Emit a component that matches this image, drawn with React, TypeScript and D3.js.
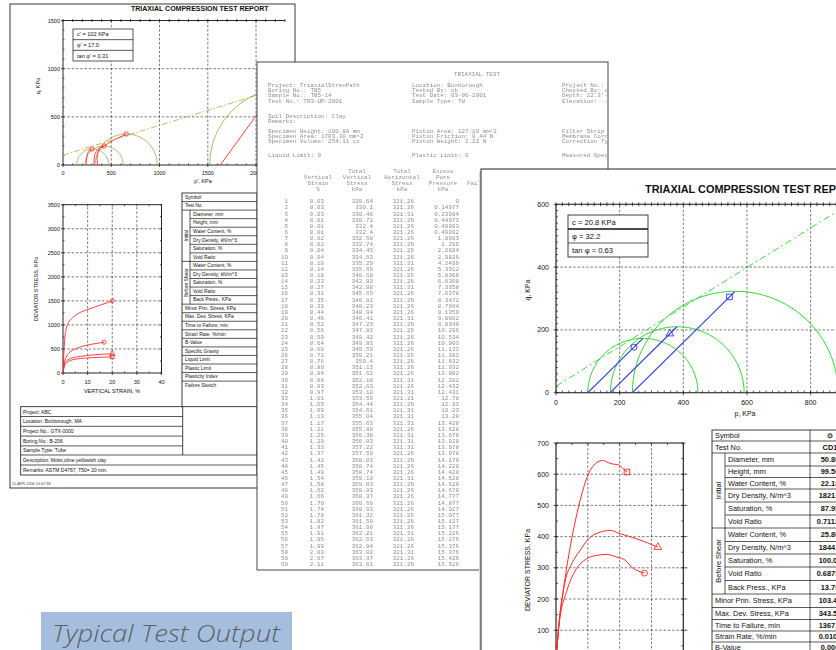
import React from 'react';
import * as d3 from 'd3';

type P = [number, number];

const F = "'Liberation Sans', Arial, Helvetica, sans-serif";
const MONO = "'Liberation Mono', 'DejaVu Sans Mono', monospace";

// ================= LEFT PAGE =================
const lTitle = 'TRIAXIAL COMPRESSION TEST REPORT';
// p'-q chart
const lqXTicks = [0, 500, 1000, 1500, 2000];
const lqYTicks = [0, 500, 1000, 1500];
const lqCohesion = 102;
const lqTanPhi = 0.31;
const lqLegend = ["c' = 102 KPa", "\u03c6' = 17.0", "tan \u03c6' = 0.31"];
const lqCircleCenters = [308, 425, 655, 2320];
const lqCircleRadii = [166, 197, 322, 800];
const lqPathA: P[] = [[240, 0], [243, 50], [250, 100], [262, 135], [280, 155], [300, 166]];
const lqPathB: P[] = [[325, 0], [322, 50], [328, 100], [345, 140], [375, 175], [425, 197]];
const lqPathC: P[] = [[360, 0], [352, 60], [360, 120], [385, 165], [430, 200], [520, 255], [600, 295], [655, 322]];
const lqPathD: P[] = [[1630, 0], [2300, 925]];
const lqMarkers: P[] = [[300, 166], [425, 197], [655, 322]];
// stress-strain chart
const lsXTicks = [0, 10, 20, 30, 40];
const lsYTicks = [0, 500, 1000, 1500, 2000, 2500, 3000, 3500];
const lsCurve1: P[] = [[0, 0], [0.3, 350], [0.7, 700], [1.2, 900], [2, 1030], [3.5, 1130], [6, 1230], [10, 1320], [15, 1410], [20, 1500]];
const lsCurve2: P[] = [[0, 0], [0.4, 180], [1.2, 320], [2.5, 420], [5, 500], [9, 570], [13, 610], [16.7, 640]];
const lsCurve3: P[] = [[0, 0], [0.4, 150], [1.2, 240], [3, 300], [7, 345], [12, 375], [20, 400]];
const lsCurve4: P[] = [[0, 0], [0.4, 110], [1.2, 200], [3, 260], [7, 300], [12, 320], [20, 335]];
// tables
const lTableRows = ['Symbol', 'Test No.', 'Diameter, mm', 'Height, mm', 'Water Content, %', 'Dry Density, kN/m^3', 'Saturation, %', 'Void Ratio', 'Water Content, %', 'Dry Density, kN/m^3', 'Saturation, %', 'Void Ratio', 'Back Press., KPa', 'Minor Prin. Stress, KPa', 'Max. Dev. Stress, KPa', 'Time to Failure, min', 'Strain Rate, %/min', 'B-Value', 'Specific Gravity', 'Liquid Limit', 'Plastic Limit', 'Plasticity Index', 'Failure Sketch'];
const lInfoShort = ['Project: ABC', 'Location: Boxborough, MA', 'Project No.: GTX-0000', 'Boring No.: B-206', 'Sample Type: Tube'];
const lInfoLong = ['Description: Moist,olive yellowish clay', 'Remarks: ASTM D4767,  T50= 20 min.'];
const lFooter = '11-APR-2006 10:47:38';

// ================= MIDDLE PAGE =================
const mTitle = 'TRIAXIAL TEST';
const mHeadCol1 = ['Project: TriaxialStrenPath', 'Boring No.: TB5', 'Sample No.: TB5-14', 'Test No.: TR3-UP-2001'];
const mHeadCol2 = ['Location: Boxborough', 'Tested By: cb', 'Test Date: 03-06-2001', 'Sample Type: TW'];
const mHeadCol3 = ['Project No.: GTX-0000', 'Checked By: dd', "Depth: 22.3'-24.3'", 'Elevation: ---'];
const mSoil = ['Soil Description: Clay', 'Remarks:'];
const mSpecCol1 = ['Specimen Height: 100.80 mm', 'Specimen Area: 1703.30 mm^2', 'Specimen Volume: 254.11 cc'];
const mSpecCol2 = ['Piston Area: 127.10 mm^2', 'Piston Friction: 0.44 N', 'Piston Weight: 2.22 N'];
const mSpecCol3 = ['Filter Strip Correction: 0 kPa', 'Membrane Correction: 0.14 N/mm', 'Correction Type: Uniform'];
const mLimits = ['Liquid Limit: 0', 'Plastic Limit: 0', 'Measured Specific Gravity: 2.7'];
const mColHeads = [['', 'Total', 'Total', 'Excess'], ['Vertical', 'Vertical', 'Horizontal', 'Pore'], ['Strain', 'Stress', 'Stress', 'Pressure'], ['%', 'kPa', 'kPa', 'kPa']];
const mStrain = ['0.03', '0.03', '0.03', '0.01', '0.01', '0.01', '0.02', '0.02', '0.04', '0.04', '0.10', '0.14', '0.19', '0.23', '0.27', '0.31', '0.35', '0.39', '0.44', '0.48', '0.52', '0.56', '0.59', '0.64', '0.69', '0.72', '0.76', '0.80', '0.84', '0.88', '0.93', '0.97', '1.01', '1.05', '1.09', '1.13', '1.17', '1.21', '1.25', '1.29', '1.33', '1.37', '1.42', '1.45', '1.49', '1.54', '1.58', '1.62', '1.66', '1.70', '1.74', '1.78', '1.82', '1.87', '1.91', '1.95', '1.99', '2.03', '2.07', '2.11'];
const mVert = ['329.64', '330.1', '330.46', '330.72', '332.4', '332.4', '332.58', '332.74', '334.43', '334.63', '335.29', '335.69', '340.69', '342.83', '342.88', '345.65', '346.81', '348.23', '348.94', '346.41', '347.23', '347.83', '349.42', '349.83', '349.59', '350.21', '350.4', '351.13', '351.62', '352.18', '352.63', '353.18', '353.59', '354.44', '354.61', '355.04', '355.63', '355.88', '356.38', '356.83', '357.22', '357.59', '358.03', '358.74', '358.74', '359.19', '359.63', '359.83', '360.37', '360.66', '360.93', '361.32', '361.59', '361.98', '362.21', '362.53', '362.84', '363.02', '363.37', '363.61'];
const mHoriz = ['321.26', '321.26', '321.31', '321.26', '321.26', '321.26', '321.26', '321.26', '321.26', '321.26', '321.31', '321.26', '321.26', '321.26', '321.31', '321.26', '321.26', '321.26', '321.26', '321.31', '321.26', '321.26', '321.26', '321.26', '321.26', '321.26', '321.26', '321.26', '321.26', '321.31', '321.26', '321.31', '321.21', '321.26', '321.31', '321.31', '321.31', '321.26', '321.31', '321.31', '321.31', '321.26', '321.26', '321.26', '321.26', '321.31', '321.26', '321.26', '321.26', '321.26', '321.26', '321.26', '321.26', '321.26', '321.31', '321.26', '321.26', '321.31', '321.26', '321.26'];
const mPore = ['0', '0.14977', '0.23994', '0.44973', '0.49993', '0.49992', '1.0993', '1.299', '2.2824', '2.9826', '4.2436', '5.3312', '5.8308', '6.6308', '7.3358', '7.6378', '8.3472', '8.7664', '9.1359', '9.8002', '9.9348', '10.296', '10.534', '10.903', '11.133', '11.383', '11.632', '11.932', '12.082', '12.282', '12.432', '12.431', '12.78', '12.93', '13.23', '13.28', '13.428', '13.628', '13.678', '13.928', '13.978', '13.978', '14.178', '14.228', '14.428', '14.528', '14.628', '14.678', '14.777', '14.877', '14.927', '15.077', '15.127', '15.177', '15.226', '15.276', '15.376', '15.376', '15.426', '15.526'];

// ================= RIGHT PAGE =================
const rTitle = 'TRIAXIAL COMPRESSION TEST REPORT';
const rqXTicks = [0, 200, 400, 600, 800];
const rqYTicks = [0, 200, 400, 600];
const rqCohesion = 20.8;
const rqTanPhi = 0.63;
const rqLegend = ['c = 20.8 KPa', '\u03c6 = 32.2', 'tan \u03c6 = 0.63'];
const rqCircleCenters = [273, 381, 563];
const rqCircleRadii = [173, 210, 323];
const rqPath1: P[] = [[100, 0], [273, 173]];
const rqPath2: P[] = [[170, 0], [380, 210]];
const rqPath3: P[] = [[240, 0], [562, 322]];
const rqMarkCircle: P = [245, 145];
const rqMarkTriangle: P = [358, 188];
const rqMarkSquare: P = [545, 305];
const rsYTicks = [100, 200, 300, 400, 500, 600, 700];
const rsXGrid = [5, 10, 15];
const rsCurveSquare: P[] = [[0, 0], [0.5, 130], [1.05, 215], [1.78, 313], [2.73, 420], [3.79, 516], [5.1, 601], [6.15, 633], [7.36, 644], [8.0, 639], [8.8, 633], [9.8, 630], [10.6, 617], [11.15, 607]];
const rsCurveTriangle: P[] = [[0, 0], [0.5, 125], [1.42, 255], [2.47, 313], [3.79, 356], [5.36, 398], [6.94, 414], [8.5, 420], [10.1, 409], [12.7, 393], [16.0, 366]];
const rsCurveCircle: P[] = [[0, 0], [0.5, 120], [1.68, 225], [3.0, 290], [4.84, 329], [6.4, 340], [8.0, 343], [9.6, 334], [10.9, 324], [11.9, 302], [13.0, 289], [13.9, 283]];
const rTableRows = ['Symbol', 'Test No.', 'Diameter, mm', 'Height, mm', 'Water Content, %', 'Dry Density, N/m^3', 'Saturation, %', 'Void Ratio', 'Water Content, %', 'Dry Density, N/m^3', 'Saturation, %', 'Void Ratio', 'Back Press., KPa', 'Minor Prin. Stress, KPa', 'Max. Dev. Stress, KPa', 'Time to Failure, min', 'Strain Rate, %/min', 'B-Value'];
const rTableValues = ['\u2299', 'CD1', '50.80', '99.50', '22.18', '1821.4', '87.95', '0.71123', '25.80', '1844.2', '100.06', '0.68751', '13.79', '103.42', '343.51', '1367.2', '0.0101', '0.000'];
const caption = 'Typical Test Output';

// ---------- helpers ----------
const semicircle = (c: number, r: number): P[] =>
  d3.range(0, 181, 1.5).map((a) => [c + r * Math.cos((a * Math.PI) / 180), r * Math.sin((a * Math.PI) / 180)] as P);

const sty = { stroke: '#111', strokeWidth: 0.7 };
const dash = { stroke: '#222', strokeWidth: 0.6, strokeDasharray: '2.5,1.8' };

function Table(props: {
  x0: number; gx: number; vx: number; xr: number; bounds: number[]; rows: string[]; fs: number; values?: string[]; vcx?: number;
}) {
  const { x0, gx, vx, xr, bounds, rows, fs, values, vcx } = props;
  const groupOf = (i: number) => (i >= 2 && i <= 7 ? 1 : i >= 8 && i <= 12 ? 2 : 0);
  const groups = [{ name: 'Initial', a: 2, b: 7 }, { name: 'Before Shear', a: 8, b: 12 }];
  const n = rows.length;
  return (
    <g fontFamily={F} fontSize={fs} fill="#111">
      <rect x={x0} y={bounds[0]} width={xr - x0} height={bounds[n] - bounds[0]} fill="#fff" stroke="#111" strokeWidth={0.8} />
      <line x1={vx} x2={vx} y1={bounds[0]} y2={bounds[n]} {...sty} />
      <line x1={gx} x2={gx} y1={bounds[2]} y2={bounds[13]} {...sty} />
      {rows.map((r, i) => {
        const g = groupOf(i);
        const yT = bounds[i];
        const yB = bounds[i + 1];
        const lx = g ? gx + 3 : x0 + 3;
        const nextSame = i < n - 1 && g !== 0 && groupOf(i + 1) === g;
        const isSketch = r === 'Failure Sketch';
        return (
          <g key={i}>
            {i < n - 1 && <line x1={nextSame ? gx : x0} x2={xr} y1={yB} y2={yB} {...sty} />}
            <text x={lx} y={isSketch ? yT + fs + 1 : (yT + yB) / 2} dominantBaseline={isSketch ? 'auto' : 'central'}>{r}</text>
            {values && vcx !== undefined && values[i] && (
              <text x={vcx} y={(yT + yB) / 2} dominantBaseline="central" textAnchor="middle" fontWeight="bold">{values[i]}</text>
            )}
          </g>
        );
      })}
      {groups.map((g) => (
        <text key={g.name} transform={`translate(${(x0 + gx) / 2},${(bounds[g.a] + bounds[g.b + 1]) / 2}) rotate(-90)`} textAnchor="middle" dominantBaseline="central">{g.name}</text>
      ))}
    </g>
  );
}

function LeftPage() {
  const x = d3.scaleLinear().domain([0, 2300]).range([63, 285]);
  const y = d3.scaleLinear().domain([0, 1500]).range([165, 20.5]);
  const ln = d3.line<P>().x((d) => x(d[0])).y((d) => y(d[1]));
  const sm = d3.line<P>().x((d) => x(d[0])).y((d) => y(d[1])).curve(d3.curveCatmullRom.alpha(0.5));
  const env: P[] = [[0, lqCohesion], [2300, lqCohesion + lqTanPhi * 2300]];
  const sx = d3.scaleLinear().domain([0, 40]).range([63, 161.5]);
  const sy = d3.scaleLinear().domain([0, 3500]).range([373, 204.7]);
  const sl = d3.line<P>().x((d) => sx(d[0])).y((d) => sy(d[1])).curve(d3.curveMonotoneX);
  const lBounds = [...d3.range(0, 23).map((i) => 193 + i * 8.55), 455];
  const infoB = [406.7, 416.5, 426.3, 436.1, 445.9, 455, 465, 475];
  return (
    <g>
      <rect x={10} y={4} width={285} height={484} fill="#fff" stroke="#222" strokeWidth={0.9} />
      <text x={131} y={11.3} fontFamily={F} fontSize={7} fontWeight="bold" fill="#111">{lTitle}</text>
      <defs>
        <clipPath id="lqclip"><rect x={63} y={20.5} width={222} height={144.5} /></clipPath>
        <clipPath id="lsclip"><rect x={63} y={204.7} width={98.5} height={168.3} /></clipPath>
      </defs>
      {[500, 1000].map((v) => <line key={'h' + v} x1={x(0)} x2={x(2300)} y1={y(v)} y2={y(v)} {...dash} />)}
      {[500, 1000, 1500, 2000].map((v) => <line key={'v' + v} x1={x(v)} x2={x(v)} y1={y(0)} y2={y(1500)} {...dash} />)}
      <line x1={x(0)} x2={x(2300)} y1={y(1500)} y2={y(1500)} stroke="#111" strokeWidth={0.9} />
      <line x1={x(0)} x2={x(0)} y1={y(0)} y2={y(1500)} stroke="#111" strokeWidth={0.9} />
      <line x1={x(0)} x2={x(2300)} y1={y(0)} y2={y(0)} stroke="#111" strokeWidth={0.9} />
      {d3.range(0, 2301, 100).map((v) => <line key={'tt' + v} x1={x(v)} x2={x(v)} y1={y(1500) - 1.5} y2={y(1500) + 1.5} {...sty} />)}
      {d3.range(0, 2301, 100).map((v) => <line key={'tb' + v} x1={x(v)} x2={x(v)} y1={y(0) - 1.5} y2={y(0) + (v % 500 === 0 ? 2 : 0)} {...sty} />)}
      {d3.range(0, 1501, 100).map((v) => <line key={'tl' + v} x1={x(0) - (v % 500 === 0 ? 2 : 0)} x2={x(0) + 1.5} y1={y(v)} y2={y(v)} {...sty} />)}
      <g fontFamily={F} fontSize={5.5} fill="#111">
        {lqYTicks.map((v) => <text key={v} x={x(0) - 3} y={y(v)} textAnchor="end" dominantBaseline="central">{v}</text>)}
        {lqXTicks.map((v) => <text key={v} x={x(v)} y={175} textAnchor="middle">{v}</text>)}
        <text x={203} y={183} textAnchor="middle">p', KPa</text>
        <text transform={`translate(40,86) rotate(-90)`} textAnchor="middle">q, KPa</text>
      </g>
      <g clipPath="url(#lqclip)" fill="none">
        <path d={ln(env) || ''} stroke="#b4b456" strokeWidth={0.9} strokeDasharray="6,2,1.5,2" />
        {lqCircleCenters.map((c, i) => <path key={i} d={ln(semicircle(c, lqCircleRadii[i])) || ''} stroke="#a29c3c" strokeWidth={0.8} />)}
        {[lqPathA, lqPathB, lqPathC].map((p, i) => <path key={i} d={sm(p) || ''} stroke="#ff2a2a" strokeWidth={0.9} />)}
        <path d={ln(lqPathD) || ''} stroke="#ff2a2a" strokeWidth={0.9} />
        {lqMarkers.map((m, i) => <circle key={i} cx={x(m[0])} cy={y(m[1])} r={2.2} stroke="#ff2a2a" strokeWidth={0.8} />)}
      </g>
      <g fontFamily={F} fontSize={5.6} fill="#111">
        <rect x={73} y={29} width={60} height={32} fill="#fff" stroke="#111" strokeWidth={0.7} />
        {lqLegend.map((t, i) => (
          <g key={i}>
            {i > 0 && <line x1={73} x2={133} y1={29 + i * 10.67} y2={29 + i * 10.67} {...sty} />}
            <text x={77} y={29 + i * 10.67 + 5.3} dominantBaseline="central">{t}</text>
          </g>
        ))}
      </g>

      {[500, 1000, 1500, 2000, 2500, 3000].map((v) => <line key={'sh' + v} x1={sx(0)} x2={sx(40)} y1={sy(v)} y2={sy(v)} {...dash} />)}
      {[10, 20, 30].map((v) => <line key={'sv' + v} x1={sx(v)} x2={sx(v)} y1={sy(0)} y2={sy(3500)} {...dash} />)}
      <rect x={sx(0)} y={sy(3500)} width={sx(40) - sx(0)} height={sy(0) - sy(3500)} fill="none" stroke="#111" strokeWidth={0.9} />
      {d3.range(0, 3501, 250).map((v) => (
        <g key={'st' + v}>
          <line x1={sx(0) - (v % 500 === 0 ? 2 : 0)} x2={sx(0) + 1.5} y1={sy(v)} y2={sy(v)} {...sty} />
          <line x1={sx(40) - 1.5} x2={sx(40)} y1={sy(v)} y2={sy(v)} {...sty} />
        </g>
      ))}
      {d3.range(0, 41, 5).map((v) => (
        <g key={'sx' + v}>
          <line x1={sx(v)} x2={sx(v)} y1={sy(0) - 1.5} y2={sy(0) + (v % 10 === 0 ? 2 : 0)} {...sty} />
          <line x1={sx(v)} x2={sx(v)} y1={sy(3500)} y2={sy(3500) + 1.5} {...sty} />
        </g>
      ))}
      <g fontFamily={F} fontSize={5.5} fill="#111">
        {lsYTicks.map((v) => <text key={v} x={sx(0) - 3} y={sy(v)} textAnchor="end" dominantBaseline="central">{v}</text>)}
        {lsXTicks.map((v) => <text key={v} x={sx(v)} y={384} textAnchor="middle">{v}</text>)}
        <text x={112} y={392.5} textAnchor="middle">VERTICAL STRAIN, %</text>
        <text transform={`translate(38,289) rotate(-90)`} textAnchor="middle">DEVIATOR STRESS, KPa</text>
      </g>
      <g clipPath="url(#lsclip)" fill="none" stroke="#ff2a2a" strokeWidth={0.9}>
        {[lsCurve1, lsCurve2, lsCurve3, lsCurve4].map((c, i) => <path key={i} d={sl(c) || ''} />)}
      </g>
      <g fill="none" stroke="#ff2a2a" strokeWidth={0.8}>
        <circle cx={sx(lsCurve1[lsCurve1.length - 1][0])} cy={sy(lsCurve1[lsCurve1.length - 1][1])} r={2} />
        <circle cx={sx(lsCurve2[lsCurve2.length - 1][0])} cy={sy(lsCurve2[lsCurve2.length - 1][1])} r={2} />
        <path d={d3.symbol(d3.symbolTriangle, 14)() || ''} transform={`translate(${sx(lsCurve3[lsCurve3.length - 1][0])},${sy(lsCurve3[lsCurve3.length - 1][1])})`} />
        <rect x={sx(lsCurve4[lsCurve4.length - 1][0]) - 1.8} y={sy(lsCurve4[lsCurve4.length - 1][1]) - 1.8} width={3.6} height={3.6} />
      </g>

      <Table x0={182} gx={190} vx={257} xr={262} bounds={lBounds} rows={lTableRows} fs={4.9} />

      <g fontFamily={F} fontSize={5} fill="#111">
        <rect x={20.7} y={infoB[0]} width={236.3} height={infoB[7] - infoB[0]} fill="#fff" stroke="#111" strokeWidth={0.8} />
        <line x1={182.7} x2={182.7} y1={infoB[0]} y2={infoB[5]} stroke="#111" strokeWidth={0.8} />
        {infoB.slice(1, 7).map((b, i) => <line key={i} x1={20.7} x2={i >= 4 ? 257 : 182.7} y1={b} y2={b} {...sty} />)}
        {lInfoShort.map((t, i) => <text key={t} x={23} y={(infoB[i] + infoB[i + 1]) / 2} dominantBaseline="central">{t}</text>)}
        {lInfoLong.map((t, i) => <text key={t} x={23} y={(infoB[i + 5] + infoB[i + 6]) / 2} dominantBaseline="central">{t}</text>)}
      </g>
      <text x={12} y={485} fontFamily={F} fontSize={3.8} fill="#444">{lFooter}</text>
    </g>
  );
}

function MiddlePage() {
  const rowY = (i: number) => 203.2 + i * 6.15;
  const heads = [318, 357, 402, 443];
  return (
    <g>
      <defs>
        <clipPath id="midclip"><rect x={258} y={63} width={349} height={506} /></clipPath>
        <filter id="soft" x="-2%" y="-2%" width="104%" height="104%"><feGaussianBlur stdDeviation="0.3" /></filter>
      </defs>
      <rect x={257} y={62} width={351} height={508} fill="#fff" stroke="#333" strokeWidth={0.9} />
      <g clipPath="url(#midclip)">
        <g fontFamily={MONO} fontSize={5.9} fill="#8e8e8e" filter="url(#soft)">
          <text x={477} y={76} textAnchor="middle">{mTitle}</text>
          {mHeadCol1.map((t, i) => <text key={'a' + i} x={268} y={86.5 + i * 5.35}>{t}</text>)}
          {mHeadCol2.map((t, i) => <text key={'b' + i} x={412} y={86.5 + i * 5.35}>{t}</text>)}
          {mHeadCol3.map((t, i) => <text key={'c' + i} x={562} y={86.5 + i * 5.35}>{t}</text>)}
          {mSoil.map((t, i) => <text key={'s' + i} x={268} y={117.5 + i * 5.6}>{t}</text>)}
          {mSpecCol1.map((t, i) => <text key={'d' + i} x={268} y={132.5 + i * 5.2}>{t}</text>)}
          {mSpecCol2.map((t, i) => <text key={'e' + i} x={412} y={132.5 + i * 5.2}>{t}</text>)}
          {mSpecCol3.map((t, i) => <text key={'f' + i} x={562} y={132.5 + i * 5.2}>{t}</text>)}
          {mLimits.map((t, i) => <text key={'g' + i} x={[268, 412, 562][i]} y={157.2}>{t}</text>)}
          {mColHeads.map((row, r) => row.map((t, c) => (
            <text key={'h' + r + c} x={heads[c]} y={173.2 + r * 5.8} textAnchor="middle">{t}</text>
          )))}
          <text x={467} y={185} textAnchor="start">Fail</text>
          {mStrain.map((s, i) => (
            <g key={'r' + i} textAnchor="end">
              <text x={288} y={rowY(i)}>{i + 1}</text>
              <text x={324} y={rowY(i)}>{s}</text>
              <text x={373} y={rowY(i)}>{mVert[i]}</text>
              <text x={414} y={rowY(i)}>{mHoriz[i]}</text>
              <text x={459} y={rowY(i)}>{mPore[i]}</text>
            </g>
          ))}
        </g>
      </g>
    </g>
  );
}

function RightPage() {
  const x = d3.scaleLinear().domain([0, 900]).range([556, 556 + 900 * 0.3183]);
  const y = d3.scaleLinear().domain([0, 600]).range([392.7, 204.3]);
  const ln = d3.line<P>().x((d) => x(d[0])).y((d) => y(d[1]));
  const env: P[] = [[0, rqCohesion], [900, rqCohesion + rqTanPhi * 900]];
  const sx = d3.scaleLinear().domain([0, 20]).range([556, 683.3]);
  const sy = d3.scaleLinear().domain([0, 700]).range([661.4, 443]);
  const sl = d3.line<P>().x((d) => sx(d[0])).y((d) => sy(d[1])).curve(d3.curveMonotoneX);
  const rBounds = [430, 441, 453, 466, 477.5, 489, 502, 515, 528, 541.5, 554, 567, 580.5, 594, 607.5, 619.5, 631, 642, 653];
  const red = '#ff2a2a';
  const lastOf = (c: P[]) => c[c.length - 1];
  return (
    <g>
      <rect x={479} y={171} width={362} height={490} fill="#d8d8d8" />
      <rect x={481} y={169} width={360} height={490} fill="#fff" stroke="#222" strokeWidth={1} />
      <text x={645} y={193} fontFamily={F} fontSize={10.9} fontWeight="bold" fill="#111">{rTitle}</text>
      <defs>
        <clipPath id="rqclip"><rect x={556} y={204.3} width={290} height={188.4} /></clipPath>
        <clipPath id="rsclip"><rect x={556} y={443} width={127.3} height={218.4} /></clipPath>
      </defs>
      {[200, 400].map((v) => <line key={'h' + v} x1={x(0)} x2={840} y1={y(v)} y2={y(v)} {...dash} />)}
      {[200, 400, 600, 800].map((v) => <line key={'v' + v} x1={x(v)} x2={x(v)} y1={y(0)} y2={y(600)} {...dash} />)}
      <line x1={x(0)} x2={840} y1={y(600)} y2={y(600)} stroke="#111" strokeWidth={1.1} />
      <line x1={x(0)} x2={x(0)} y1={y(0)} y2={y(600)} stroke="#111" strokeWidth={1.1} />
      <line x1={x(0)} x2={840} y1={y(0)} y2={y(0)} stroke="#111" strokeWidth={1.1} />
      {d3.range(0, 901, 20).map((v) => (
        <g key={'t' + v}>
          <line x1={x(v)} x2={x(v)} y1={y(600) - 2} y2={y(600) + 2} {...sty} />
          <line x1={x(v)} x2={x(v)} y1={y(0) - 2.2} y2={y(0) + (v % 200 === 0 ? 2.5 : 0)} {...sty} />
        </g>
      ))}
      {d3.range(0, 601, 20).map((v) => <line key={'l' + v} x1={x(0) - (v % 200 === 0 ? 2.5 : 0)} x2={x(0) + 2} y1={y(v)} y2={y(v)} {...sty} />)}
      <g fontFamily={F} fontSize={7} fill="#111">
        {rqYTicks.map((v) => <text key={v} x={549} y={y(v)} textAnchor="end" dominantBaseline="central">{v}</text>)}
        {rqXTicks.map((v) => <text key={v} x={x(v)} y={404.5} textAnchor="middle">{v}</text>)}
        <text x={745} y={416} textAnchor="middle">p, KPa</text>
        <text transform={`translate(530,290) rotate(-90)`} textAnchor="middle">q, KPa</text>
      </g>
      <g clipPath="url(#rqclip)" fill="none">
        <path d={ln(env) || ''} stroke="#3ddc3d" strokeWidth={1} strokeDasharray="7,3,2,3" />
        {rqCircleCenters.map((c, i) => <path key={i} d={ln(semicircle(c, rqCircleRadii[i])) || ''} stroke="#2fd42f" strokeWidth={1} />)}
        {[rqPath1, rqPath2, rqPath3].map((p, i) => <path key={i} d={ln(p) || ''} stroke="#2a3de8" strokeWidth={1.1} />)}
        <circle cx={x(rqMarkCircle[0])} cy={y(rqMarkCircle[1])} r={3} stroke="#2a3de8" strokeWidth={0.9} />
        <path d={d3.symbol(d3.symbolTriangle, 26)() || ''} transform={`translate(${x(rqMarkTriangle[0])},${y(rqMarkTriangle[1])})`} stroke="#2a3de8" strokeWidth={0.9} />
        <rect x={x(rqMarkSquare[0]) - 2.8} y={y(rqMarkSquare[1]) - 2.8} width={5.6} height={5.6} stroke="#2a3de8" strokeWidth={0.9} />
      </g>
      <g fontFamily={F} fontSize={7.6} fill="#111">
        <rect x={568} y={215} width={80} height={42} fill="#fff" stroke="#111" strokeWidth={0.8} />
        {rqLegend.map((t, i) => (
          <g key={i}>
            {i > 0 && <line x1={568} x2={648} y1={215 + i * 14} y2={215 + i * 14} stroke="#111" strokeWidth={i === 1 ? 1.4 : 0.7} />}
            <text x={572} y={215 + i * 14 + 7} dominantBaseline="central">{t}</text>
          </g>
        ))}
      </g>

      {[100, 200, 300, 400, 500, 600].map((v) => <line key={'sh' + v} x1={sx(0)} x2={sx(20) + 6} y1={sy(v)} y2={sy(v)} {...dash} />)}
      {rsXGrid.map((v) => <line key={'sv' + v} x1={sx(v)} x2={sx(v)} y1={sy(0)} y2={sy(700)} {...dash} />)}
      <line x1={sx(0)} x2={sx(20)} y1={sy(700)} y2={sy(700)} stroke="#111" strokeWidth={1.1} />
      <line x1={sx(0)} x2={sx(0)} y1={sy(0)} y2={sy(700)} stroke="#111" strokeWidth={1.1} />
      <line x1={sx(20)} x2={sx(20)} y1={sy(0)} y2={sy(700)} stroke="#111" strokeWidth={1.1} />
      {d3.range(0, 21, 2.5).map((v) => <line key={'stt' + v} x1={sx(v)} x2={sx(v)} y1={sy(700)} y2={sy(700) + 2} {...sty} />)}
      {d3.range(0, 701, 50).map((v) => (
        <g key={'sl' + v}>
          <line x1={sx(0) - (v % 100 === 0 ? 2.5 : 0)} x2={sx(0) + 2} y1={sy(v)} y2={sy(v)} {...sty} />
          <line x1={sx(20) - 2} x2={sx(20) + (v % 100 === 0 ? 2.5 : 0)} y1={sy(v)} y2={sy(v)} {...sty} />
        </g>
      ))}
      <g fontFamily={F} fontSize={7} fill="#111">
        {rsYTicks.map((v) => <text key={v} x={549} y={sy(v)} textAnchor="end" dominantBaseline="central">{v}</text>)}
        <text transform={`translate(530,570) rotate(-90)`} textAnchor="middle">DEVIATOR STRESS, KPa</text>
      </g>
      <g clipPath="url(#rsclip)" fill="none" stroke={red} strokeWidth={1}>
        {[rsCurveSquare, rsCurveTriangle, rsCurveCircle].map((c, i) => <path key={i} d={sl(c) || ''} />)}
      </g>
      <g fill="none" stroke={red} strokeWidth={0.9}>
        <rect x={sx(lastOf(rsCurveSquare)[0]) - 2.8} y={sy(lastOf(rsCurveSquare)[1]) - 2.8} width={5.6} height={5.6} />
        <path d={d3.symbol(d3.symbolTriangle, 26)() || ''} transform={`translate(${sx(lastOf(rsCurveTriangle)[0])},${sy(lastOf(rsCurveTriangle)[1])})`} />
        <circle cx={sx(lastOf(rsCurveCircle)[0])} cy={sy(lastOf(rsCurveCircle)[1])} r={3} />
      </g>

      <Table x0={712} gx={725} vx={810} xr={870} bounds={rBounds} rows={rTableRows} fs={7.4} values={rTableValues} vcx={830} />
    </g>
  );
}

export default function App() {
  return (
    <svg width={836} height={650} viewBox="0 0 836 650" style={{ position: 'absolute', left: 0, top: 0, background: '#fff' }}>
      <rect x={0} y={0} width={836} height={650} fill="#fff" />
      <LeftPage />
      <MiddlePage />
      <RightPage />
      <rect x={41} y={612} width={251} height={40} fill="#a5bedd" />
      <text x={52} y={642} fontFamily="'Open Sans', Lato, sans-serif" fontStyle="italic" fontWeight={300} fontSize={24} fill="#5b6068" textLength={228} lengthAdjust="spacingAndGlyphs">{caption}</text>
    </svg>
  );
}
